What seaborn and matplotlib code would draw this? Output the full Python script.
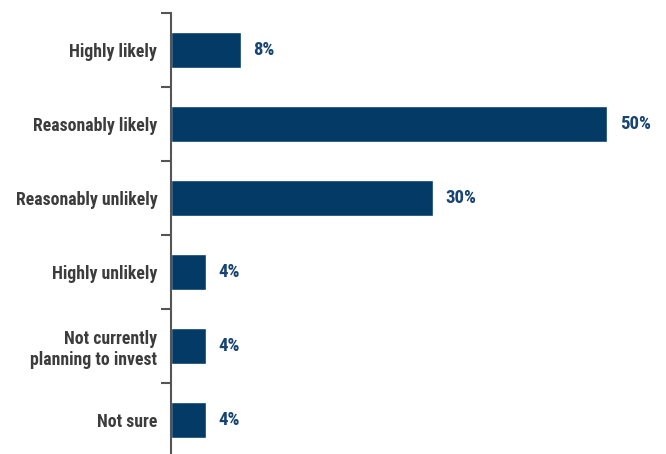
import matplotlib
matplotlib.use("Agg")
import matplotlib.pyplot as plt
import seaborn as sns
import pandas as pd
import numpy as np

categories = ["Highly likely", "Reasonably likely", "Reasonably unlikely",
              "Highly unlikely", "Not currently\nplanning to invest", "Not sure"]
values = [8, 50, 30, 4, 4, 4]
value_labels = ["8%", "50%", "30%", "4%", "4%", "4%"]

sns.set_style("white")
plt.rcParams["font.family"] = ["Liberation Sans Narrow", "Roboto Condensed", "Roboto", "DejaVu Sans"]

BAR = "#033b66"
LABEL = "#174472"
TEXT = "#3c3c3c"

df = pd.DataFrame({"category": categories, "value": values})

fig = plt.figure(figsize=(6.66, 4.54), dpi=100)
ax = fig.add_axes([0.2568, 0.0022, 0.7207, 0.9692])

sns.barplot(data=df, x="value", y="category", orient="h", color=BAR,
            saturation=1, width=0.49, ax=ax)

ax.set_xlim(0, 55)
ax.set_ylim(5.446, -0.5)

for sp in ["top", "right", "bottom"]:
    ax.spines[sp].set_visible(False)
ax.spines["left"].set_color("#555555")
ax.spines["left"].set_linewidth(1.5)

ax.set_xticks([])
ax.set_xlabel("")
ax.set_ylabel("")

ax.set_yticks(np.arange(len(categories)))
ax.set_yticklabels(categories, fontsize=12.8, fontweight="bold", color=TEXT,
                   ha="right", linespacing=1.2)
ax.tick_params(axis="y", which="major", length=0, pad=10)
ax.set_yticks(np.arange(len(categories)) - 0.5, minor=True)
ax.tick_params(axis="y", which="minor", left=True, direction="out",
               length=7.5, width=1.5, color="#555555")

for i, (v, lab) in enumerate(zip(values, value_labels)):
    ax.annotate(lab, xy=(v, i), xytext=(9, 0), textcoords="offset points",
                va="center", ha="left", fontsize=13.5, fontweight="bold", color=LABEL)

fig.savefig("out.png", dpi=100)
